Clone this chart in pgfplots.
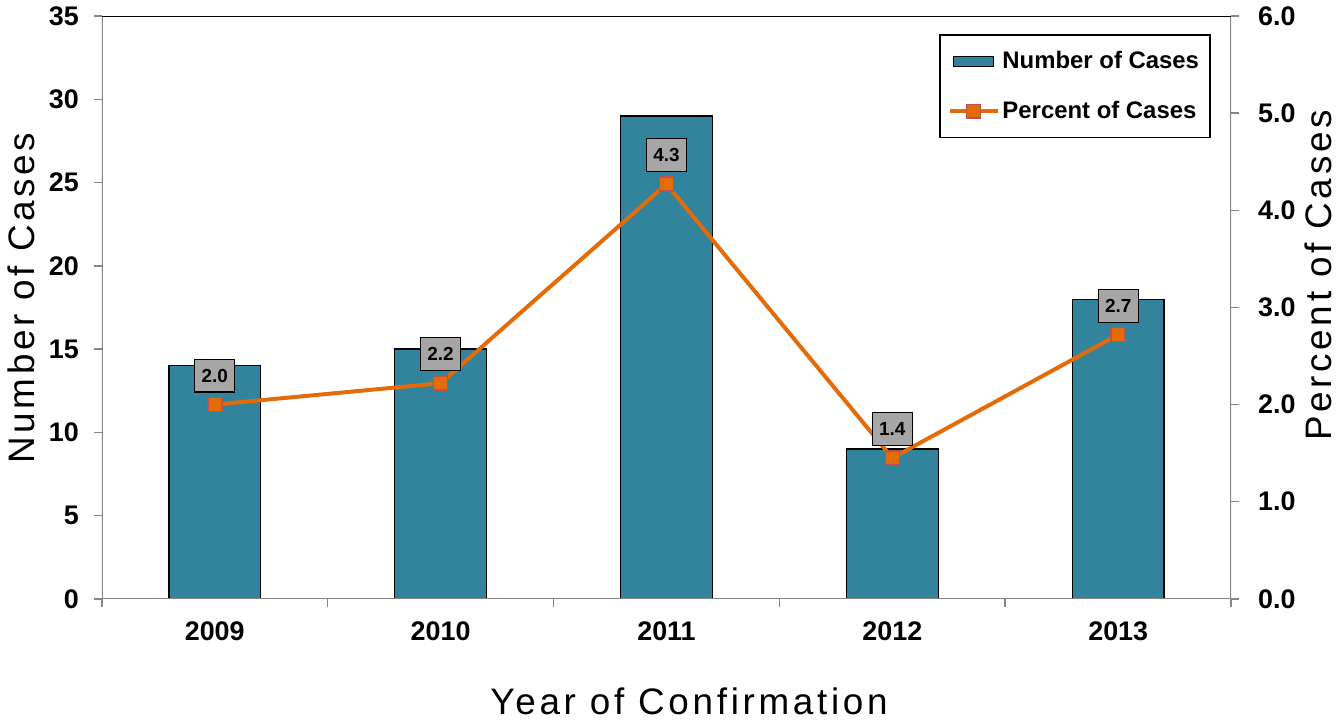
\documentclass[border=0pt]{standalone}
\usepackage{fontspec}
\setmainfont{Liberation Sans}
\newfontfamily\titlefont{Liberation Sans}[LetterSpace=10]
\usepackage{pgfplots}
\pgfplotsset{compat=1.18}

\definecolor{barcol}{HTML}{31849B}
\definecolor{linecol}{HTML}{E36C09}
\definecolor{markedge}{HTML}{C0504D}
\definecolor{axgray}{HTML}{868686}
\definecolor{boxgray}{HTML}{A6A6A6}

\begin{document}
\begin{tikzpicture}
\pgfplotsset{
  common/.style={
    width=567pt, height=292.5pt, scale only axis,
    xmin=-0.5, xmax=4.5,
    axis line style={draw=none},
    /pgf/number format/assume math mode=true,
    tick label style={font=\fontsize{13.5}{16}\selectfont\bfseries},
    tick style={axgray, line width=0.8pt},
    major tick length=4pt,
    tick align=outside,
  }
}

%% bars: number of cases (left axis)
\begin{axis}[common,
  ymin=0, ymax=35, ytick={0,5,...,35},
  ytick pos=left, xtick pos=bottom,
  xtick={-0.5,0.5,1.5,2.5,3.5,4.5},
  x tick label as interval,
  xticklabels={2009,2010,2011,2012,2013},
  xticklabel style={yshift=-4pt},
  yticklabel style={xshift=-4pt},
  ybar, bar width=46pt,
  xlabel={\titlefont\fontsize{18.5}{22}\selectfont Year of Confirmation},
  xlabel style={at={(axis description cs:0.52,-0.138)}, anchor=north, inner sep=4pt},
  ylabel={\titlefont\fontsize{18.5}{22}\selectfont Number of Cases},
  ylabel style={at={(axis description cs:-0.0905,0.516)}, anchor=north, inner sep=4pt},
]
\addplot[fill=barcol, draw=black, line width=0.6pt]
  coordinates {(0,14) (1,15) (2,29) (3,9) (4,18)};

\draw[axgray, line width=1pt] (rel axis cs:0,0) -- (rel axis cs:1,0);
\draw[axgray, line width=1pt] (rel axis cs:0,0) -- (rel axis cs:0,1);
\draw[axgray, line width=1pt] (rel axis cs:1,0) -- (rel axis cs:1,1);
\draw[black, line width=0.6pt] (rel axis cs:0,1) -- (rel axis cs:1,1);
\end{axis}

%% line: percent of cases (right axis)
\begin{axis}[common,
  ymin=0, ymax=6, ytick={0,1,...,6},
  ytick pos=right, xtick=\empty,
  yticklabel={\pgfmathprintnumber[fixed,fixed zerofill,precision=1]{\tick}},
  yticklabel style={xshift=6pt},
  ylabel={\titlefont\fontsize{18.5}{22}\selectfont Percent of Cases},
  ylabel style={at={(axis description cs:1.058,0.555)}, anchor=north, inner sep=4pt},
  legend style={
    at={(0.982,0.969)}, anchor=north east,
    draw=black, line width=0.8pt,
    font=\fontsize{12}{14}\selectfont\bfseries,
    row sep=11pt, inner xsep=4pt, inner ysep=6pt,
    nodes={inner xsep=1.5pt},
  },
  legend cell align=left,
]
\addlegendimage{legend image code/.code={
  \draw[fill=barcol, draw=black, line width=0.6pt] (0pt,-2.5pt) rectangle (20pt,2.5pt);}}
\addlegendentry{Number of Cases}

\addplot[linecol, line width=2pt,
  mark=square*, mark size=3.5pt,
  mark options={fill=linecol, draw=markedge, line width=0.8pt},
  legend image code/.code={
    \draw[mark repeat=2, mark phase=2] plot coordinates {(-2pt,0pt) (10pt,0pt) (22pt,0pt)};},
  nodes near coords, point meta=explicit symbolic,
  every node near coord/.style={
    font=\fontsize{9.5}{10}\selectfont\bfseries, text=black,
    fill=boxgray, draw=black, line width=0.6pt,
    inner sep=0pt, minimum width=20pt, minimum height=16.5pt,
    anchor=south, yshift=6pt},
] coordinates {
  (0,2.00) [2.0]
  (1,2.22) [2.2]
  (2,4.27) [4.3]
  (3,1.45) [1.4]
  (4,2.72) [2.7]
};
\addlegendentry{Percent of Cases}
\end{axis}
\end{tikzpicture}
\end{document}
